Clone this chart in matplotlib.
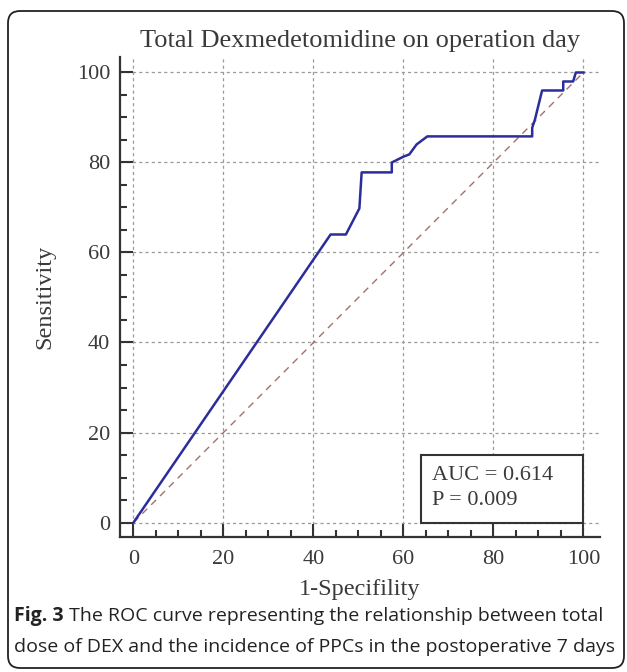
import matplotlib
matplotlib.use("Agg")
import matplotlib.pyplot as plt
from matplotlib.ticker import MultipleLocator, FixedLocator
from matplotlib.patches import Rectangle, FancyBboxPatch

# ---------------- data ----------------
fpr = [0, 43.8, 47.2, 50.2, 50.7, 57.4, 57.4, 60.0, 61.3, 62.9, 65.3,
       88.6, 88.6, 89.2, 90.8, 95.5, 95.5, 97.7, 98.3, 100]
tpr = [0, 64.0, 64.0, 69.8, 77.8, 77.8, 80.0, 81.3, 81.8, 84.0, 85.8,
       85.8, 87.7, 89.5, 96.0, 96.0, 98.0, 98.0, 100, 100]
ref_x = [0, 100]
ref_y = [0, 100]
major_ticks = [0, 20, 40, 60, 80, 100]
tick_labels = ["0", "20", "40", "60", "80", "100"]

title = "Total Dexmedetomidine on operation day"
xlabel = "1-Specifility"
ylabel = "Sensitivity"
auc_text = "AUC = 0.614"
p_text = "P = 0.009"
caption_bold = "Fig. 3"
caption_1 = " The ROC curve representing the relationship between total"
caption_2 = "dose of DEX and the incidence of PPCs in the postoperative 7 days"

# ---------------- layout ----------------
W, H = 627, 672
plt.rcParams['font.family'] = ['Liberation Serif', 'DejaVu Serif']
TXT = '#3a3a3a'
DARK = '#333333'

fig = plt.figure(figsize=(W / 100, H / 100), dpi=100)
fig.patch.set_facecolor('white')
ax = fig.add_axes([120 / W, (H - 537) / H, 480 / W, 480 / H])

ax.plot(ref_x, ref_y, color='#a3706c', lw=1.0, dashes=(5, 4), zorder=2)
ax.plot(fpr, tpr, color='#2b2e9a', lw=1.8, zorder=3)

ax.set_xlim(-3.0, 103.67)
ax.set_ylim(-3.22, 103.44)

ax.xaxis.set_major_locator(FixedLocator(major_ticks))
ax.yaxis.set_major_locator(FixedLocator(major_ticks))
ax.set_xticklabels(tick_labels)
ax.set_yticklabels(tick_labels)
ax.xaxis.set_minor_locator(MultipleLocator(5))
ax.yaxis.set_minor_locator(MultipleLocator(5))

ax.set_axisbelow(True)
ax.grid(True, which='major', color='#9a9a9a', linestyle=(0, (2.5, 2.5)), lw=0.9)

for s in ['top', 'right']:
    ax.spines[s].set_visible(False)
for s in ['left', 'bottom']:
    ax.spines[s].set_linewidth(1.6)
    ax.spines[s].set_color(DARK)

ax.tick_params(which='both', direction='in', color=DARK, width=1.5,
               labelsize=16, labelcolor=TXT)
ax.tick_params(which='major', length=9.7)
ax.tick_params(which='minor', length=4.8)
ax.tick_params(axis='y', pad=7)
ax.tick_params(axis='x', pad=9)

ax.set_title(title, fontsize=19, color=TXT, pad=7)
ax.set_xlabel(xlabel, fontsize=17.5, color=TXT)
ax.set_ylabel(ylabel, fontsize=17.5, color=TXT)
ax.xaxis.set_label_coords(0.5, -0.088)
ax.yaxis.set_label_coords(-0.135, 0.5)

# AUC box
ax.add_patch(Rectangle((64, 0), 36, 15, facecolor='white', edgecolor=DARK,
                       lw=1.5, zorder=4))
ax.text(66.3, 10.5, auc_text, fontsize=16, color=TXT, va='center', zorder=5)
ax.text(66.3, 4.8, p_text, fontsize=16, color=TXT, va='center', zorder=5)

# frame
frame = FancyBboxPatch((0.08, 0.04), 6.16, 6.57,
                       boxstyle='round,pad=0,rounding_size=0.12',
                       transform=fig.dpi_scale_trans, fill=False,
                       ec='#222222', lw=1.3)
fig.add_artist(frame)

# caption
CF = 'Open Sans'
fig.canvas.draw()
r = fig.canvas.get_renderer()
probe = fig.text(0, 0, caption_2, fontfamily=CF, fontsize=10)
wpx = probe.get_window_extent(r).width
probe.remove()
cfs = 10 * 598 / wpx

y1 = 1 - 621 / H
y2 = 1 - 652 / H
tb = fig.text(14 / W, y1, caption_bold, fontfamily=CF, fontweight='bold',
              fontsize=cfs, color='#222222', va='baseline')
bb = tb.get_window_extent(r)
fig.text(bb.x1 / W, y1, caption_1, fontfamily=CF, fontsize=cfs,
         color='#222222', va='baseline')
fig.text(14 / W, y2, caption_2, fontfamily=CF, fontsize=cfs,
         color='#222222', va='baseline')

fig.savefig('out.png', dpi=100, facecolor='white')
